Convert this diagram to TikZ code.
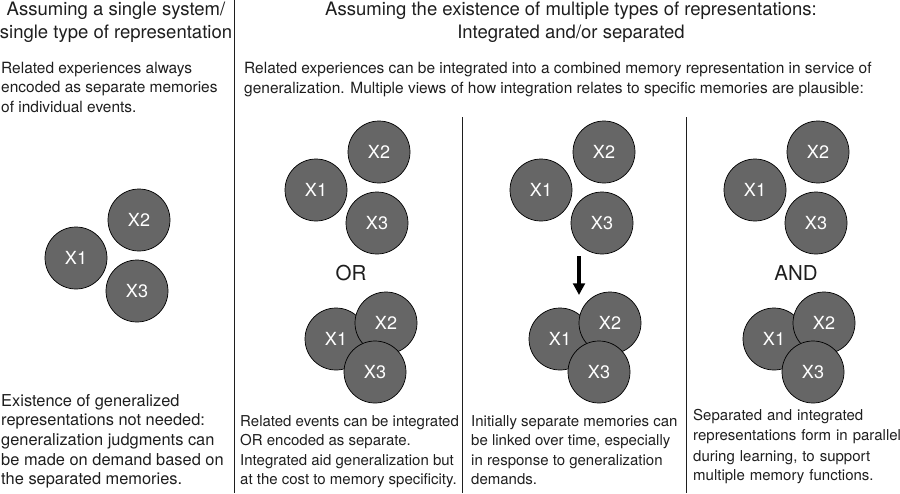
\documentclass[tikz,border=0pt]{standalone}
\usepackage{fontspec}
\setmainfont{TeX Gyre Heros}
\usetikzlibrary{arrows.meta}

\definecolor{memgray}{RGB}{102,102,102}
\definecolor{inkgray}{RGB}{30,30,30}

\newcommand\hdsize{\fontsize{15.8pt}{19.6pt}\selectfont}
\newcommand\txsize{\fontsize{13.2pt}{16.6pt}\selectfont}
\newcommand\ntsize{\fontsize{14pt}{16.8pt}\selectfont}
\newcommand\pnsize{\fontsize{12.8pt}{16.6pt}\selectfont}
\newcommand\lblsize{\fontsize{15.4pt}{18pt}\selectfont}
\newcommand\opsize{\fontsize{17.5pt}{20pt}\selectfont}

\tikzset{
  mem/.style={circle, draw=black, fill=memgray, line width=0.6pt,
    minimum size=1.86cm, inner sep=0pt, text=white, font=\lblsize},
  headtext/.style={inner sep=0pt, align=center, text=inkgray, font=\hdsize},
  bodytext/.style={inner sep=0pt, anchor=north west, align=left,
    text=inkgray, font=\txsize},
  optext/.style={inner sep=0pt, text=inkgray, font=\opsize},
  sepline/.style={draw=inkgray, line width=0.7pt}
}

\begin{document}
\begin{tikzpicture}[x=0.03cm, y=-0.03cm]
   \useasboundingbox (0,0) rectangle (900,493);

   \draw[sepline] (234,0) -- (234,493);
   \draw[sepline] (462,117) -- (462,493);
   \draw[sepline] (686,117) -- (686,493);

   \node[headtext] (head-single) at (116,22) {Assuming a single system/\\single type of representation};
   \node[headtext] (head-multi) at (571,22) {Assuming the existence of multiple types of representations:\\Integrated and/or separated};

   \node[bodytext] (intro-single) at (1,62) {Related experiences always\\encoded as separate memories\\of individual events.};
   \node[bodytext] (intro-multi) at (244,62) {Related experiences can be integrated into a combined memory representation in service of\\generalization. Multiple views of how integration relates to specific memories are plausible:};

   \foreach \px/\py/\nm in {76/258/a, 316/190/b, 541/190/c, 755/190/d} {
      \node[mem] (\nm-sep1) at (\px,\py) {X1};
      \node[mem] (\nm-sep2) at (\px+63,\py-38) {X2};
      \node[mem] (\nm-sep3) at (\px+61,\py+33) {X3};
   }

   \foreach \px/\py/\nm in {336/339/b, 560/339/c, 774/339/d} {
      \node[mem] (\nm-int1) at (\px,\py) {X1};
      \node[mem] (\nm-int2) at (\px+50,\py-16) {X2};
      \node[mem] (\nm-int3) at (\px+39,\py+33) {X3};
   }

   \node[optext] (or-label) at (351,273) {OR};
   \node[optext] (and-label) at (796,273) {AND};

   \coordinate (link-from) at (579,256);
   \coordinate (link-to) at (579,295);
   \draw[-{Triangle[width=10pt,length=10pt]}, line width=2.6pt, black] (link-from) -- (link-to);

   \node[bodytext, font=\ntsize] (note-single) at (1,394) {Existence of generalized\\representations not needed:\\generalization judgments can\\be made on demand based on\\the separated memories.};
   \node[bodytext, font=\pnsize] (note-or) at (240,415) {Related events can be integrated\\OR encoded as separate.\\Integrated aid generalization but\\at the cost to memory specificity.};
   \node[bodytext, font=\pnsize] (note-link) at (471,415) {Initially separate memories can\\be linked over time, especially\\in response to generalization\\demands.};
   \node[bodytext, font=\pnsize, text width=205pt] (note-and) at (693,409) {\baselineskip=17.4pt Separated and integrated\\representations form in parallel\\during learning, to support\\multiple memory functions.};
\end{tikzpicture}
\end{document}
